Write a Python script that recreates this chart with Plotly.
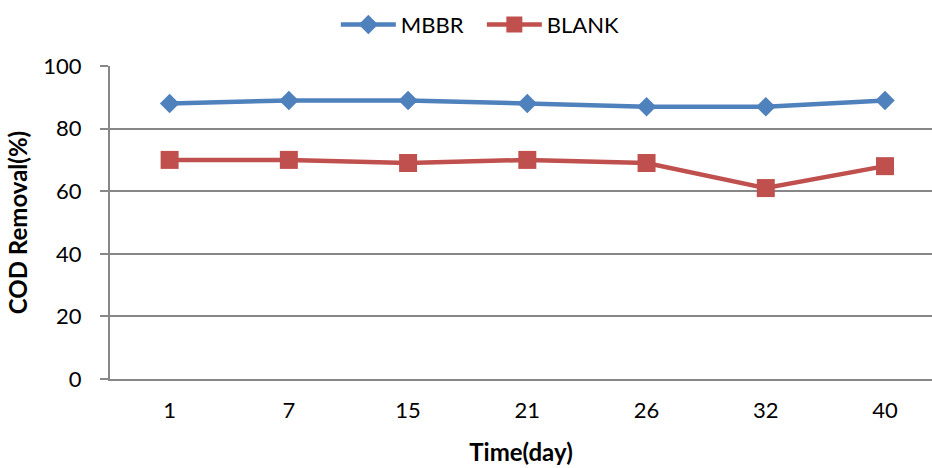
import plotly.graph_objects as go

days = ["1", "7", "15", "21", "26", "32", "40"]
mbbr = [88, 89, 89, 88, 87, 87, 89]
blank = [70, 70, 69, 70, 69, 61, 68]
y_ticks = [0, 20, 40, 60, 80, 100]

FONT = "Lato"
GRID = "#878787"

fig = go.Figure()
fig.add_trace(go.Scatter(
    x=days, y=mbbr, name="MBBR", mode="lines+markers",
    line=dict(color="#4F81BD", width=4.5),
    marker=dict(symbol="diamond", size=15, color="#4F81BD"),
))
fig.add_trace(go.Scatter(
    x=days, y=blank, name="BLANK", mode="lines+markers",
    line=dict(color="#C0504D", width=4.5),
    marker=dict(symbol="square", size=18, color="#C0504D"),
))

fig.update_layout(
    width=932, height=468, autosize=False,
    margin=dict(l=110, r=0, t=66, b=89),
    paper_bgcolor="white", plot_bgcolor="white",
    font=dict(family=FONT, size=22, color="#000000"),
    legend=dict(
        orientation="h", xref="container", yref="container",
        x=0.517, y=0.947, xanchor="center", yanchor="middle",
        font=dict(family=FONT, size=22), itemwidth=55,
        entrywidth=76, entrywidthmode="pixels",
        bgcolor="rgba(0,0,0,0)",
    ),
    xaxis=dict(
        type="category", range=[-0.5, 6.394],
        showgrid=False, showline=True, linecolor=GRID, linewidth=2,
        ticks="", ticklabelstandoff=11,
        title=dict(text="<b>Time(day)</b>", font=dict(family=FONT, size=24), standoff=22),
    ),
    yaxis=dict(
        range=[0, 100], tickvals=y_ticks, showgrid=True, gridcolor=GRID, gridwidth=1.5,
        zeroline=False, showline=True, linecolor=GRID, linewidth=2,
        ticks="outside", ticklen=8, tickcolor=GRID, tickwidth=2, ticklabelstandoff=14,
        title=dict(text="<b>COD Removal(%)</b>", font=dict(family=FONT, size=24), standoff=9),
    ),
)

fig.write_html(
    "out.html",
    config={"displayModeBar": False},
    post_script="document.body.style.margin='0px';document.body.style.overflow='hidden';",
)
